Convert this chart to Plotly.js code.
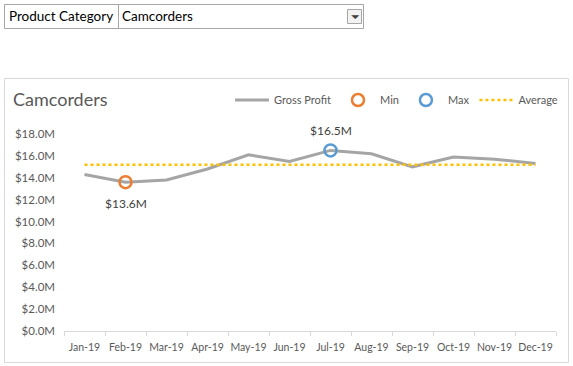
<!DOCTYPE html>
<html>
<head>
<meta charset="utf-8">
<script src="https://cdn.plot.ly/plotly-3.0.1.min.js"></script>
<style>html,body{margin:0;padding:0;background:#fff;}#chart{width:573px;height:366px;}</style>
</head>
<body>
<div id="chart"></div>
<script>
const months = ["Jan-19","Feb-19","Mar-19","Apr-19","May-19","Jun-19","Jul-19","Aug-19","Sep-19","Oct-19","Nov-19","Dec-19"];
const grossProfit = [14.3,13.6,13.8,14.8,16.1,15.5,16.5,16.2,15.0,15.9,15.7,15.3];
const minValues = [null,13.6,null,null,null,null,null,null,null,null,null,null];
const maxValues = [null,null,null,null,null,null,16.5,null,null,null,null,null];
const avgValues = [15.2,15.2,15.2,15.2,15.2,15.2,15.2,15.2,15.2,15.2,15.2,15.2];
const yTicks = [0,2,4,6,8,10,12,14,16,18];
const yTickLabels = ["$0.0M","$2.0M","$4.0M","$6.0M","$8.0M","$10.0M","$12.0M","$14.0M","$16.0M","$18.0M"];
const filterLabel = "Product Category";
const filterValue = "Camcorders";

const W = 573, H = 366, L = 64, R = 556, T = 134, B = 331;
const px = x => (x - L) / (R - L);
const py = y => (B - y) / (B - T);
const font = "Lato, 'Liberation Sans', Arial, sans-serif";

const traces = [
  {x: months, y: grossProfit, name: "Gross Profit", type: "scatter", mode: "lines",
   line: {color: "#A5A5A5", width: 3}},
  {x: months, y: minValues, name: "Min", type: "scatter", mode: "markers",
   marker: {symbol: "circle-open", size: 12, color: "#ED7D31", line: {width: 2.5, color: "#ED7D31"}}},
  {x: months, y: maxValues, name: "Max", type: "scatter", mode: "markers",
   marker: {symbol: "circle-open", size: 12, color: "#5B9BD5", line: {width: 2.5, color: "#5B9BD5"}}},
  {x: months, y: avgValues, name: "Average", type: "scatter", mode: "lines",
   line: {color: "#FFC000", width: 2.5, dash: "dot"}}
];

const layout = {
  width: W, height: H,
  margin: {l: L, r: W - R, t: T, b: H - B, pad: 0, autoexpand: false},
  paper_bgcolor: "#fff", plot_bgcolor: "#fff",
  font: {family: font, size: 11, color: "#595959"},
  showlegend: true,
  legend: {orientation: "h", x: px(563), xanchor: "right", y: py(100), yanchor: "middle",
           font: {size: 11, color: "#595959"}, itemwidth: 34, tracegroupgap: 0, bgcolor: "rgba(0,0,0,0)"},
  title: {text: "Camcorders", x: 13 / W, xanchor: "left", xref: "container",
          y: 1 - 100 / H, yanchor: "middle", yref: "container",
          font: {family: font, size: 18, color: "#595959"}},
  xaxis: {type: "category", range: [-0.5, months.length - 0.5], automargin: false, showgrid: false, zeroline: false,
          showline: true, linecolor: "#D9D9D9", linewidth: 1,
          ticks: "outside", tickson: "boundaries", ticklen: 4, tickcolor: "#D9D9D9", tickangle: 0,
          ticklabelstandoff: 6,
          tickfont: {size: 10.5, color: "#595959"}, fixedrange: true},
  yaxis: {range: [0, 18], automargin: false, tickvals: yTicks, ticktext: yTickLabels, showgrid: false, zeroline: false,
          showline: false, ticks: "", ticklabelstandoff: 8,
          tickfont: {size: 11.5, color: "#595959"}, fixedrange: true},
  shapes: [
    {type: "rect", xref: "paper", yref: "paper", x0: px(4.5), x1: px(568.5), y0: py(78.5), y1: py(362.5),
     line: {color: "#D9D9D9", width: 1}, fillcolor: "rgba(0,0,0,0)", layer: "below"},
    {type: "rect", xref: "paper", yref: "paper", x0: px(4.5), x1: px(363.5), y0: py(4.5), y1: py(28.5),
     line: {color: "#A6A6A6", width: 1}, fillcolor: "rgba(0,0,0,0)"},
    {type: "line", xref: "paper", yref: "paper", x0: px(118.5), x1: px(118.5), y0: py(4.5), y1: py(28.5),
     line: {color: "#A6A6A6", width: 1}},
    {type: "rect", xref: "paper", yref: "paper", x0: px(347.5), x1: px(361.5), y0: py(9.5), y1: py(23.5),
     line: {color: "#A6A6A6", width: 1}, fillcolor: "#F2F2F2"}
  ],
  annotations: [
    {x: "Feb-19", y: 13.6, xref: "x", yref: "y", text: "$13.6M", showarrow: false, yshift: -21,
     font: {size: 12, color: "#404040"}},
    {x: "Jul-19", y: 16.5, xref: "x", yref: "y", text: "$16.5M", showarrow: false, yshift: 20,
     font: {size: 12, color: "#404040"}},
    {x: px(7), y: py(16), xref: "paper", yref: "paper", xanchor: "left", yanchor: "middle", showarrow: false,
     text: filterLabel, font: {size: 13.5, color: "#000"}},
    {x: px(120), y: py(16), xref: "paper", yref: "paper", xanchor: "left", yanchor: "middle", showarrow: false,
     text: filterValue, font: {size: 13.5, color: "#000"}},
    {x: px(355), y: py(16.5), xref: "paper", yref: "paper", xanchor: "center", yanchor: "middle", showarrow: false,
     text: "<b>⏷</b>", font: {size: 9, color: "#404040"}}
  ]
};

Plotly.newPlot("chart", traces, layout, {displayModeBar: false, staticPlot: true});
</script>
</body>
</html>
